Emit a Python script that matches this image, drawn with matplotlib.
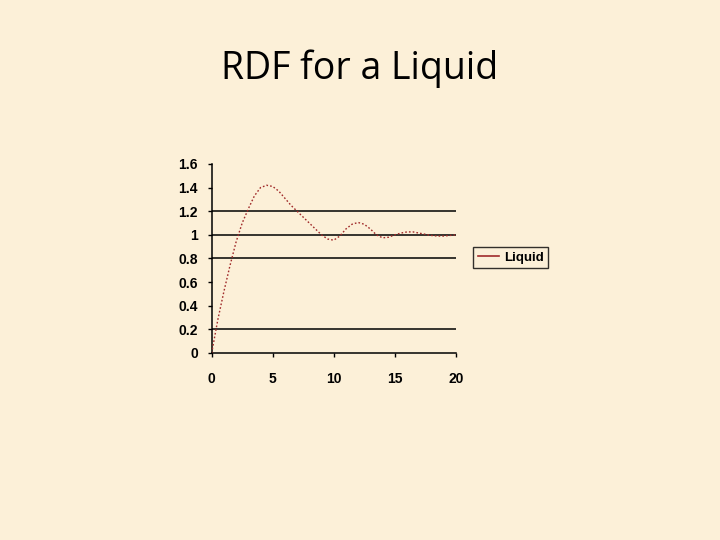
import matplotlib
matplotlib.use("Agg")
import matplotlib.pyplot as plt
from matplotlib.lines import Line2D

r = [0, 0.5, 1.0, 1.5, 2.0, 2.5, 3.0, 3.5, 4.0, 4.5, 5.0, 5.5, 6.0, 6.5, 7.0,
     7.5, 8.0, 8.5, 9.0, 9.5, 10.0, 10.5, 11.0, 11.5, 12.0, 12.5, 13.0, 13.5,
     14.0, 14.5, 15.0, 15.5, 16.0, 16.5, 17.0, 17.5, 18.0, 18.5, 19.0, 19.5, 20.0]
g = [0.0, 0.28, 0.52, 0.74, 0.94, 1.10, 1.22, 1.33, 1.40, 1.42, 1.41, 1.37,
     1.31, 1.25, 1.20, 1.15, 1.10, 1.05, 1.00, 0.965, 0.955, 0.99, 1.05, 1.09,
     1.105, 1.09, 1.05, 1.00, 0.975, 0.98, 1.00, 1.015, 1.025, 1.025, 1.015,
     1.005, 0.995, 0.99, 0.99, 0.995, 1.0]
grid_levels = [0.2, 0.8, 1.0, 1.2]
xticks = [0, 5, 10, 15, 20]
yticks = [0, 0.2, 0.4, 0.6, 0.8, 1.0, 1.2, 1.4, 1.6]
ytick_labels = ["0", "0.2", "0.4", "0.6", "0.8", "1", "1.2", "1.4", "1.6"]

bg = "#fcf0d8"
line_color = "#a02a2a"

fig = plt.figure(figsize=(7.2, 5.4), dpi=100, facecolor=bg)
ax = fig.add_axes([0.294, 0.3463, 0.339, 0.35])
ax.set_facecolor("none")

for lv in grid_levels:
    ax.axhline(lv, color="black", lw=1.1, zorder=1)

ax.plot(r, g, color=line_color, lw=1.0, linestyle=(0, (1.2, 1.5)), zorder=3)

ax.set_xlim(0, 20)
ax.set_ylim(0, 1.6)
ax.set_xticks(xticks)
ax.set_xticklabels([str(x) for x in xticks])
ax.set_yticks(yticks)
ax.set_yticklabels(ytick_labels)
for s in ["top", "right"]:
    ax.spines[s].set_visible(False)
for s in ["left", "bottom"]:
    ax.spines[s].set_linewidth(1.1)
ax.tick_params(axis="x", length=3, width=1, pad=11, labelsize=10)
ax.tick_params(axis="y", length=3, width=1, pad=7, labelsize=10)
for lab in ax.get_xticklabels() + ax.get_yticklabels():
    lab.set_fontfamily("Liberation Sans")
    lab.set_fontweight("bold")

handle = Line2D([0], [0], color=line_color, lw=1.2)
leg = fig.legend([handle], ["Liquid"], loc="upper left",
                 bbox_to_anchor=(473 / 720, 1 - 247 / 540),
                 prop={"family": "Liberation Sans", "weight": "bold", "size": 9.5},
                 frameon=True, fancybox=False, handlelength=1.6,
                 handletextpad=0.4, borderpad=0.35, borderaxespad=0)
leg.get_frame().set_edgecolor("black")
leg.get_frame().set_facecolor(bg)
leg.get_frame().set_linewidth(1.0)

fig.text(0.5, 1 - 79.5 / 540, "RDF for a Liquid", ha="center", va="baseline",
         fontsize=27, family="Open Sans", color="black")

fig.savefig("out.png", dpi=100, facecolor=bg)
